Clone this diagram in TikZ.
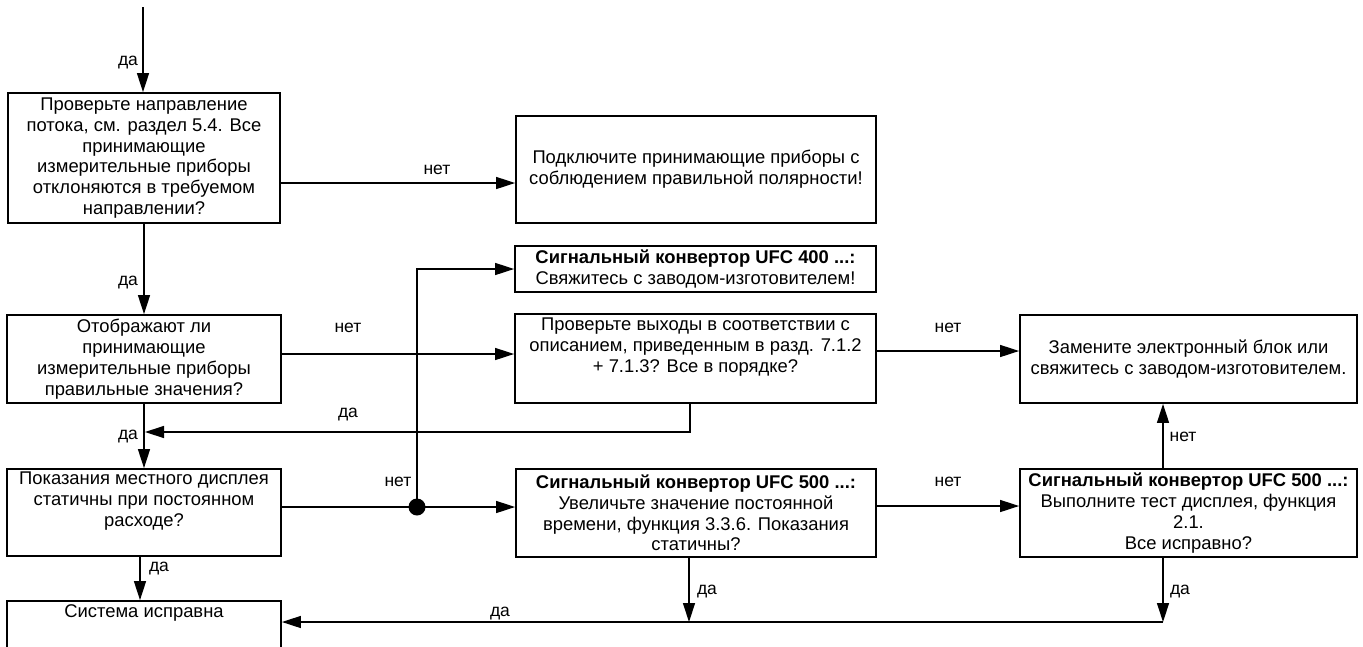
\documentclass[tikz,border=0pt]{standalone}
\usepackage{fontspec}
\setmainfont{Liberation Sans}
\usetikzlibrary{arrows.meta}

\begin{document}
\begin{tikzpicture}[x=1pt, y=-1pt,
    box/.style={draw=black, line width=1.8pt, inner sep=0pt, align=center,
        font=\fontsize{18.4}{20.8}\selectfont},
    size/.style 2 args={minimum width=#1pt, minimum height=#2pt},
    flow/.style={draw=black, line width=1.3pt, -{Triangle[length=19pt, width=12pt]}},
    wire/.style={draw=black, line width=1.3pt},
    dot/.style={circle, fill=black, inner sep=0pt, minimum size=17pt},
    lbl/.style={inner sep=0pt, font=\fontsize{17.5}{20}\selectfont}
]

    % rozmer obrazku
    \useasboundingbox (0,0) rectangle (1363,646);
    \clip (0,0) rectangle (1363,646);

    % --- bloky ---
    \node[box, size={272}{130}] (check) at (144,158)
        {Проверьте направление\\потока, см. раздел 5.4. Все\\принимающие\\измерительные приборы\\отклоняются в требуемом\\направлении?};
    \node[box, size={360}{107}] (polar) at (696,169.5)
        {Подключите принимающие приборы с\\соблюдением правильной полярности!};
    \node[box, size={361}{46}] (ufc400) at (695.5,269)
        {\textbf{Сигнальный конвертор UFC 400 ...:}\\Свяжитесь с заводом-изготовителем!};
    \node[box, size={274}{88}] (values) at (144,359)
        {Отображают ли\\принимающие\\измерительные приборы\\правильные значения?};
    \node[box, size={361}{89}] (outputs) at (695.5,358.5)
        {Проверьте выходы в соответствии с\\описанием, приведенным в разд. 7.1.2\\+ 7.1.3? Все в порядке?\\\strut};
    \node[box, size={337}{88}] (replace) at (1188.5,359)
        {Замените электронный блок или\\свяжитесь с заводом-изготовителем.};
    \node[box, size={274}{87}] (display) at (144,512.5)
        {Показания местного дисплея\\статичны при постоянном\\расходе?\\\strut};
    \node[box, size={360}{88}] (ufc500a) at (696,513)
        {\textbf{Сигнальный конвертор UFC 500 ...:}\\Увеличьте значение постоянной\\времени, функция 3.3.6. Показания\\статичны?};
    \node[box, size={337}{88}] (ufc500b) at (1188.5,513)
        {\textbf{Сигнальный конвертор UFC 500 ...:}\\Выполните тест дисплея, функция\\2.1.\\Все исправно?};
    \node[box, size={274}{88}] (ok) at (144,645)
        {Система исправна\\\strut\\\strut\\\strut};

    % pomocne body
    \coordinate (start) at (143,7);
    \coordinate (back) at (145,432);
    \coordinate (mid) at (689,622);
    \coordinate (merge) at (1163,622);
    \node[dot] (junc) at (417,507) {};

    % --- spojnice ---
    \draw[flow] (start) -- (start |- check.north);
    \draw[flow] ([yshift=-25pt]check.east) -- ([yshift=-25pt]check.east -| polar.west);
    \draw[flow] (check.south) -- (values.north);
    \draw[flow] ([yshift=5pt]values.east) -- ([yshift=5pt]values.east -| outputs.west);
    \draw[flow] ([xshift=-5.5pt]outputs.south) |- (back);
    \draw[flow] (values.south) -- (display.north);
    \draw[wire] ([yshift=5.5pt]display.east) -- (junc.center);
    \draw[flow] (junc.center) -- (junc.center -| ufc500a.west);
    \draw[flow] (junc.center) |- (ufc400.west);
    \draw[flow] ([yshift=7.5pt]outputs.east) -- ([yshift=7.5pt]outputs.east -| replace.west);
    \draw[flow] ([yshift=7pt]ufc500a.east) -- ([yshift=7pt]ufc500a.east -| ufc500b.west);
    \draw[flow] (merge |- ufc500b.north) -- (merge |- replace.south);
    \draw[flow] (mid |- ufc500a.south) -- (mid);
    \draw[flow] (merge |- ufc500b.south) -- (merge);
    \draw[flow] (merge) -- (merge -| ok.east);
    \draw[flow] ([xshift=-4pt]display.south) -- ([xshift=-4pt]display.south |- ok.north);

    % --- popisky ---
    \node[lbl] (yes1) at (128,63) {да};
    \node[lbl] (yes2) at (128,283) {да};
    \node[lbl] (yes3) at (128,437) {да};
    \node[lbl] (yes4) at (348,415) {да};
    \node[lbl] (yes5) at (159,569) {да};
    \node[lbl] (yes6) at (707,592) {да};
    \node[lbl] (yes7) at (1180,592) {да};
    \node[lbl] (yes8) at (500,614) {да};
    \node[lbl] (no1) at (437,170) {нет};
    \node[lbl] (no2) at (348,328) {нет};
    \node[lbl] (no3) at (398,482) {нет};
    \node[lbl] (no4) at (948,328) {нет};
    \node[lbl] (no5) at (948,482) {нет};
    \node[lbl] (no6) at (1183,437) {нет};

\end{tikzpicture}
\end{document}
